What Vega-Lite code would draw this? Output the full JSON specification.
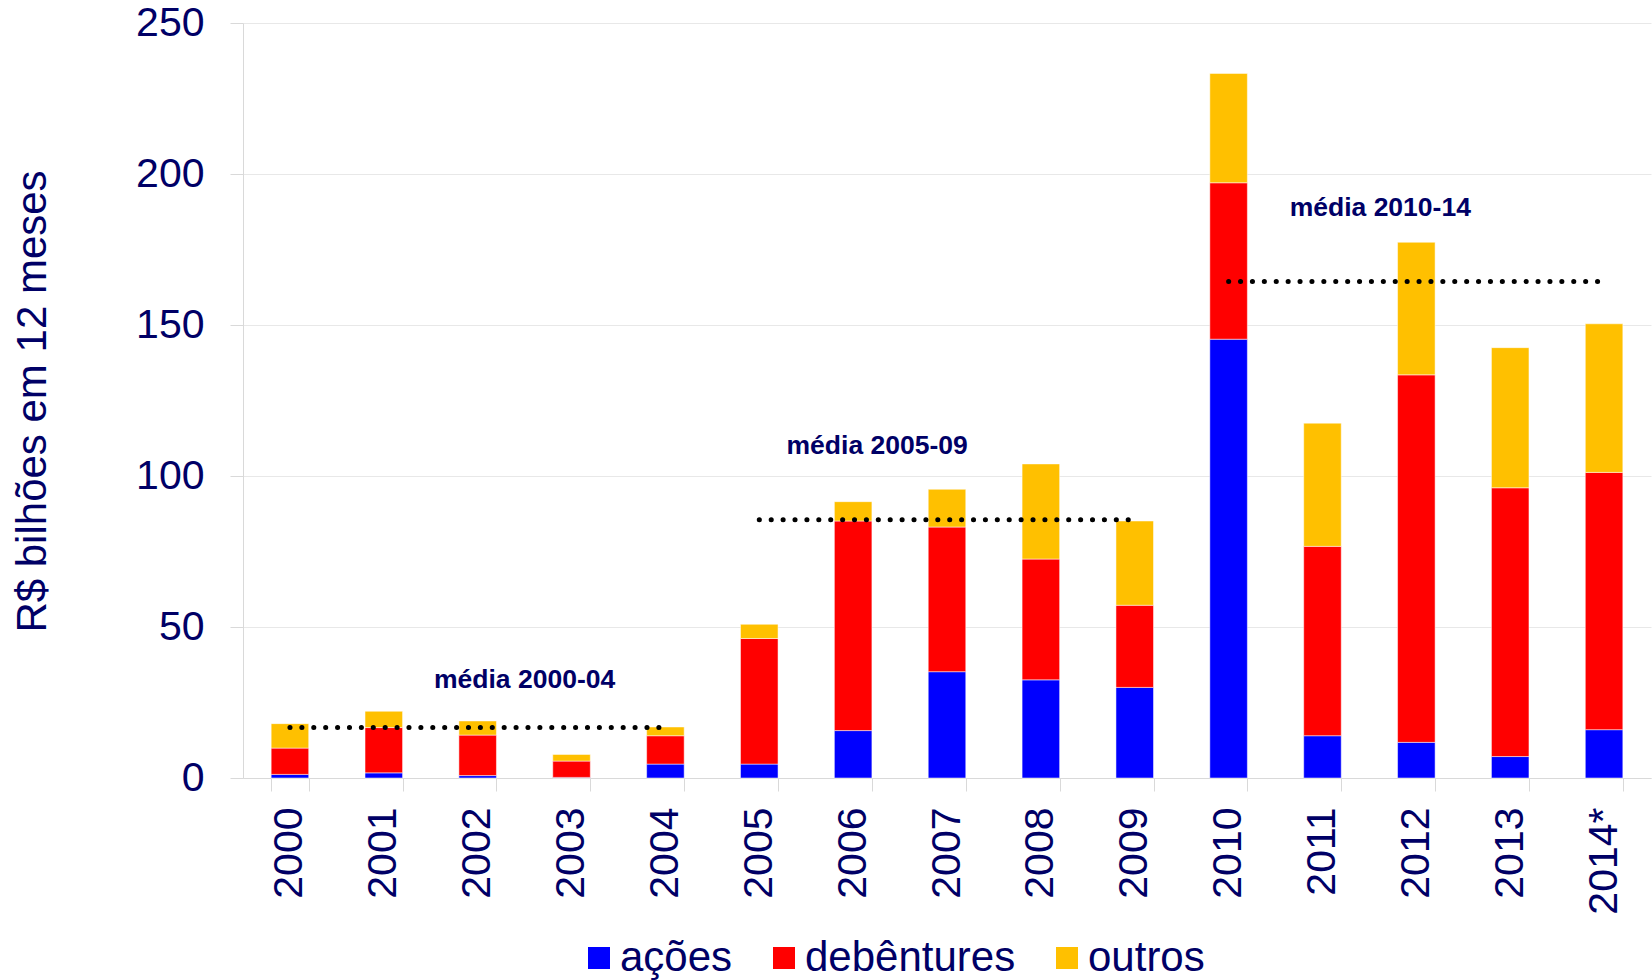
{
  "$schema": "https://vega.github.io/schema/vega-lite/v6.json",
  "autosize": {"type": "none"},
  "padding": {"left": 243, "top": 23, "right": 1, "bottom": 202},
  "width": 1408,
  "height": 755,
  "background": "white",
  "config": {
    "font": "Liberation Sans",
    "view": {"stroke": null}
  },
  "datasets": {
    "emissoes": [
      {"ano": "2000", "tipo": "ações", "valor": 1.2},
      {"ano": "2000", "tipo": "debêntures", "valor": 8.7},
      {"ano": "2000", "tipo": "outros", "valor": 8.1},
      {"ano": "2001", "tipo": "ações", "valor": 1.7},
      {"ano": "2001", "tipo": "debêntures", "valor": 15.0},
      {"ano": "2001", "tipo": "outros", "valor": 5.4},
      {"ano": "2002", "tipo": "ações", "valor": 0.8},
      {"ano": "2002", "tipo": "debêntures", "valor": 13.4},
      {"ano": "2002", "tipo": "outros", "valor": 4.7},
      {"ano": "2003", "tipo": "ações", "valor": 0.2},
      {"ano": "2003", "tipo": "debêntures", "valor": 5.4},
      {"ano": "2003", "tipo": "outros", "valor": 2.2},
      {"ano": "2004", "tipo": "ações", "valor": 4.6},
      {"ano": "2004", "tipo": "debêntures", "valor": 9.4},
      {"ano": "2004", "tipo": "outros", "valor": 2.9},
      {"ano": "2005", "tipo": "ações", "valor": 4.6},
      {"ano": "2005", "tipo": "debêntures", "valor": 41.6},
      {"ano": "2005", "tipo": "outros", "valor": 4.7},
      {"ano": "2006", "tipo": "ações", "valor": 15.7},
      {"ano": "2006", "tipo": "debêntures", "valor": 69.4},
      {"ano": "2006", "tipo": "outros", "valor": 6.4},
      {"ano": "2007", "tipo": "ações", "valor": 35.2},
      {"ano": "2007", "tipo": "debêntures", "valor": 47.9},
      {"ano": "2007", "tipo": "outros", "valor": 12.5},
      {"ano": "2008", "tipo": "ações", "valor": 32.5},
      {"ano": "2008", "tipo": "debêntures", "valor": 40.0},
      {"ano": "2008", "tipo": "outros", "valor": 31.5},
      {"ano": "2009", "tipo": "ações", "valor": 30.0},
      {"ano": "2009", "tipo": "debêntures", "valor": 27.2},
      {"ano": "2009", "tipo": "outros", "valor": 27.9},
      {"ano": "2010", "tipo": "ações", "valor": 145.3},
      {"ano": "2010", "tipo": "debêntures", "valor": 51.8},
      {"ano": "2010", "tipo": "outros", "valor": 36.2},
      {"ano": "2011", "tipo": "ações", "valor": 14.0},
      {"ano": "2011", "tipo": "debêntures", "valor": 62.7},
      {"ano": "2011", "tipo": "outros", "valor": 40.8},
      {"ano": "2012", "tipo": "ações", "valor": 11.8},
      {"ano": "2012", "tipo": "debêntures", "valor": 121.7},
      {"ano": "2012", "tipo": "outros", "valor": 43.9},
      {"ano": "2013", "tipo": "ações", "valor": 7.1},
      {"ano": "2013", "tipo": "debêntures", "valor": 89.0},
      {"ano": "2013", "tipo": "outros", "valor": 46.4},
      {"ano": "2014*", "tipo": "ações", "valor": 16.0},
      {"ano": "2014*", "tipo": "debêntures", "valor": 85.2},
      {"ano": "2014*", "tipo": "outros", "valor": 49.2}
    ],
    "medias": [
      {"inicio": "2000", "fim": "2004", "media": 16.7},
      {"inicio": "2005", "fim": "2009", "media": 85.5},
      {"inicio": "2010", "fim": "2014*", "media": 164.4}
    ]
  },
  "layer": [
    {
      "data": {"name": "emissoes"},
      "mark": {"type": "bar", "stroke": "white", "strokeWidth": 0.5},
      "encoding": {
        "x": {
          "field": "ano",
          "type": "nominal",
          "sort": null,
          "scale": {
            "domain": ["2000", "2001", "2002", "2003", "2004", "2005", "2006", "2007", "2008", "2009", "2010", "2011", "2012", "2013", "2014*"],
            "paddingInner": 0.6,
            "paddingOuter": 0.3
          },
          "axis": {
            "title": null,
            "labelAngle": 270,
            "labelFontSize": 41,
            "labelColor": "#000066",
            "labelPadding": 16,
            "tickSize": 13,
            "tickColor": "#d9d9d9",
            "tickBand": "extent",
            "domainColor": "#d9d9d9",
            "grid": false
          }
        },
        "y": {
          "field": "valor",
          "type": "quantitative",
          "stack": "zero",
          "scale": {"domain": [0, 250], "nice": false},
          "axis": {
            "title": "R$ bilhões em 12 meses",
            "values": [0, 50, 100, 150, 200, 250],
            "labelFontSize": 41,
            "labelColor": "#000066",
            "labelPadding": 26,
            "tickSize": 13,
            "tickColor": "#d9d9d9",
            "domainColor": "#d9d9d9",
            "gridColor": "#e8e8e8",
            "titleFontSize": 42,
            "titleFontWeight": "normal",
            "titleColor": "#000066",
            "titleX": -198,
            "titleY": 378,
            "titleAngle": 270,
            "titleBaseline": "alphabetic",
            "titleAlign": "center"
          }
        },
        "color": {
          "field": "tipo",
          "type": "nominal",
          "scale": {
            "domain": ["ações", "debêntures", "outros"],
            "range": ["#0000ff", "#ff0000", "#ffc000"]
          },
          "legend": {
            "title": null,
            "orient": "none",
            "direction": "horizontal",
            "legendX": 335,
            "legendY": 914,
            "padding": 0,
            "symbolType": "square",
            "symbolSize": 484,
            "symbolStrokeWidth": 0,
            "labelFontSize": 42,
            "labelColor": "#000066",
            "labelOffset": 0,
            "labelLimit": 400,
            "columnPadding": 30
          }
        },
        "order": {"field": "tipo", "type": "nominal", "sort": "ascending"}
      }
    },
    {
      "data": {"name": "medias"},
      "mark": {"type": "rule", "color": "black", "strokeWidth": 5, "strokeDash": [0.1, 11.8], "strokeCap": "round"},
      "encoding": {
        "x": {"field": "inicio", "type": "nominal"},
        "x2": {"field": "fim"},
        "y": {"field": "media", "type": "quantitative"}
      }
    },
    {
      "data": {"values": [{"rotulo": "média 2000-04", "ano": "2002", "y": 32.4}]},
      "mark": {"type": "text", "fontSize": 26.5, "fontWeight": "bold", "color": "#000066", "align": "center", "baseline": "middle"},
      "encoding": {
        "x": {"field": "ano", "type": "nominal", "bandPosition": 1.75},
        "y": {"field": "y", "type": "quantitative"},
        "text": {"field": "rotulo"}
      }
    },
    {
      "data": {"values": [{"rotulo": "média 2005-09", "ano": "2006", "y": 109.9}]},
      "mark": {"type": "text", "fontSize": 26.5, "fontWeight": "bold", "color": "#000066", "align": "center", "baseline": "middle"},
      "encoding": {
        "x": {"field": "ano", "type": "nominal", "bandPosition": 1.14},
        "y": {"field": "y", "type": "quantitative"},
        "text": {"field": "rotulo"}
      }
    },
    {
      "data": {"values": [{"rotulo": "média 2010-14", "ano": "2011", "y": 188.7}]},
      "mark": {"type": "text", "fontSize": 26.5, "fontWeight": "bold", "color": "#000066", "align": "center", "baseline": "middle"},
      "encoding": {
        "x": {"field": "ano", "type": "nominal", "bandPosition": 2.04},
        "y": {"field": "y", "type": "quantitative"},
        "text": {"field": "rotulo"}
      }
    }
  ]
}
